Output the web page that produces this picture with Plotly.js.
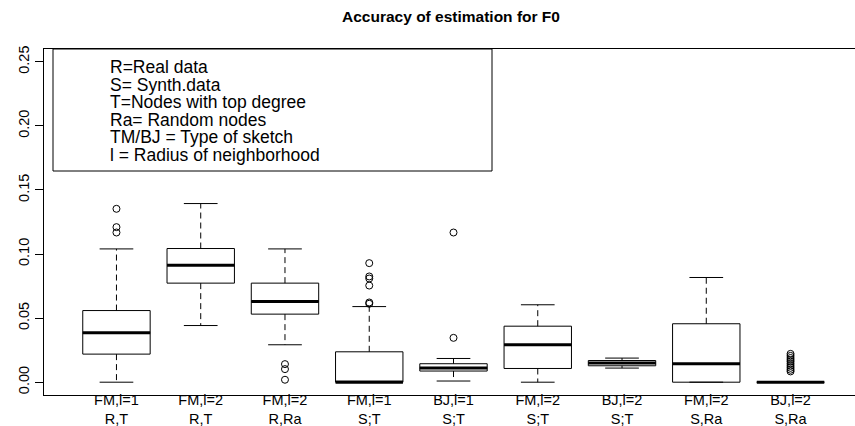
<!DOCTYPE html>
<html>
<head>
<meta charset="utf-8">
<script src="https://cdn.plot.ly/plotly-3.0.1.min.js"></script>
<style>
html, body { margin: 0; padding: 0; overflow: hidden; background: #fff; }
#chart { width: 900px; height: 426px; }
</style>
</head>
<body>
<div id="chart"></div>
<script>
// ---- data ----
const categories = ["FM,l=1<br>R,T", "FM,l=2<br>R,T", "FM,l=2<br>R,Ra", "FM,l=1<br>S;T", "BJ,l=1<br>S;T",
                    "FM,l=2<br>S;T", "BJ,l=2<br>S;T", "FM,l=2<br>S,Ra", "BJ,l=2<br>S,Ra"];
const lowerWhisker = [0.000, 0.0442, 0.0292, 0.000, 0.0009, 0.000, 0.0110, 0.000, 0.000];
const q1Values     = [0.0219, 0.0773, 0.0531, 0.000, 0.0087, 0.0107, 0.0128, 0.000, 0.000];
const medianValues = [0.0385, 0.0913, 0.0630, 0.000, 0.0110, 0.0292, 0.0149, 0.0144, 0.000];
const q3Values     = [0.0559, 0.1043, 0.0773, 0.0237, 0.0144, 0.0437, 0.0169, 0.0456, 0.000];
const upperWhisker = [0.1040, 0.1394, 0.1040, 0.0590, 0.0185, 0.0604, 0.0188, 0.0817, 0.000];
const outliers = [
  [0.1353, 0.1210, 0.1168],
  [],
  [0.0141, 0.0102, 0.0019],
  [0.0929, 0.0825, 0.0809, 0.0754, 0.0622, 0.0612],
  [0.1168, 0.0346],
  [],
  [],
  [],
  [0.0221, 0.0205, 0.0189, 0.0174, 0.0160, 0.0143, 0.0127, 0.0112, 0.0097, 0.0084]
];
const yTickVals = [0, 0.05, 0.10, 0.15, 0.20, 0.25];
const yTickText = ["0.00", "0.05", "0.10", "0.15", "0.20", "0.25"];
const legendLines = ["R=Real data", "S= Synth.data", "T=Nodes with top degree", "Ra= Random nodes",
                     "TM/BJ = Type of sketch", "l = Radius of neighborhood"];
const titleText = "Accuracy of estimation for F0";

// ---- build traces ----
const pos = categories.map((_, i) => i + 1);
const boxHalf = 0.4, capHalf = 0.2;

const wx = [], wy = [], cx = [], cy = [], mx = [], my = [], ox = [], oy = [];
pos.forEach((p, i) => {
  wx.push(p, p, null, p, p, null);
  wy.push(q3Values[i], upperWhisker[i], null, q1Values[i], lowerWhisker[i], null);
  cx.push(p - capHalf, p + capHalf, null, p - capHalf, p + capHalf, null);
  cy.push(upperWhisker[i], upperWhisker[i], null, lowerWhisker[i], lowerWhisker[i], null);
  mx.push(p - boxHalf, p + boxHalf, null);
  my.push(medianValues[i], medianValues[i], null);
  outliers[i].forEach(v => { ox.push(p); oy.push(v); });
});

const traces = [
  {
    type: "box", x: pos, q1: q1Values, median: medianValues, q3: q3Values,
    lowerfence: q1Values, upperfence: q3Values,
    width: 0.8, whiskerwidth: 0, fillcolor: "#ffffff",
    line: { color: "#000000", width: 1 }, hoverinfo: "skip", showlegend: false
  },
  { type: "scatter", mode: "lines", x: wx, y: wy, line: { color: "#000", width: 1, dash: "6px,4px" },
    hoverinfo: "skip", showlegend: false },
  { type: "scatter", mode: "lines", x: cx, y: cy, line: { color: "#000", width: 1 },
    hoverinfo: "skip", showlegend: false },
  { type: "scatter", mode: "lines", x: mx, y: my, line: { color: "#000", width: 3 },
    hoverinfo: "skip", showlegend: false },
  { type: "scatter", mode: "markers", x: ox, y: oy,
    marker: { symbol: "circle-open", size: 7, color: "#000", line: { width: 1, color: "#000" } },
    hoverinfo: "skip", showlegend: false }
];

// ---- layout ----
const W = 900, H = 426, L = 44, T = 49, R = W - 863, B = H - 395;
const plotW = W - L - R, plotH = H - T - B;
const annotations = legendLines.map((t, i) => ({
  text: t, xref: "paper", yref: "paper",
  x: (108 - L) / plotW, xanchor: "left",
  y: 1 - ((67 + 17.5 * i) - T) / plotH, yanchor: "middle",
  showarrow: false, font: { size: 17.5, color: "#000" }
}));

const layout = {
  width: W, height: H,
  margin: { l: L, r: R, t: T, b: B, pad: 0 },
  paper_bgcolor: "#fff", plot_bgcolor: "#fff",
  font: { family: "Liberation Sans, Arial, Helvetica, sans-serif", color: "#000", size: 14.5 },
  title: {
    text: titleText, font: { size: 15.5, weight: "bold", color: "#000" },
    x: 451 / W, xref: "container", xanchor: "center",
    y: 1 - 17 / H, yref: "container", yanchor: "middle"
  },
  showlegend: false,
  xaxis: {
    range: [0.14, 9.86], tickmode: "array", tickvals: pos, ticktext: categories,
    ticks: "", showgrid: false, zeroline: false,
    showline: true, linecolor: "#000", linewidth: 1, mirror: true,
    tickfont: { size: 14.5 }, tickangle: 0, ticklabelstandoff: -8
  },
  yaxis: {
    range: [-0.01, 0.26], tickmode: "array", tickvals: yTickVals, ticktext: yTickText,
    ticks: "outside", ticklen: 8, tickwidth: 1, tickcolor: "#000",
    showgrid: false, zeroline: false,
    showline: true, linecolor: "#000", linewidth: 1, mirror: true,
    tickfont: { size: 14.5 }, tickangle: -90
  },
  shapes: [{
    type: "rect", xref: "paper", yref: "paper",
    x0: (53 - L) / plotW, x1: (492 - L) / plotW,
    y0: 1 - (171 - T) / plotH, y1: 1,
    line: { color: "#000", width: 1 }, fillcolor: "rgba(0,0,0,0)"
  }],
  annotations: annotations
};

Plotly.newPlot("chart", traces, layout, { staticPlot: true, displayModeBar: false });
</script>
</body>
</html>
